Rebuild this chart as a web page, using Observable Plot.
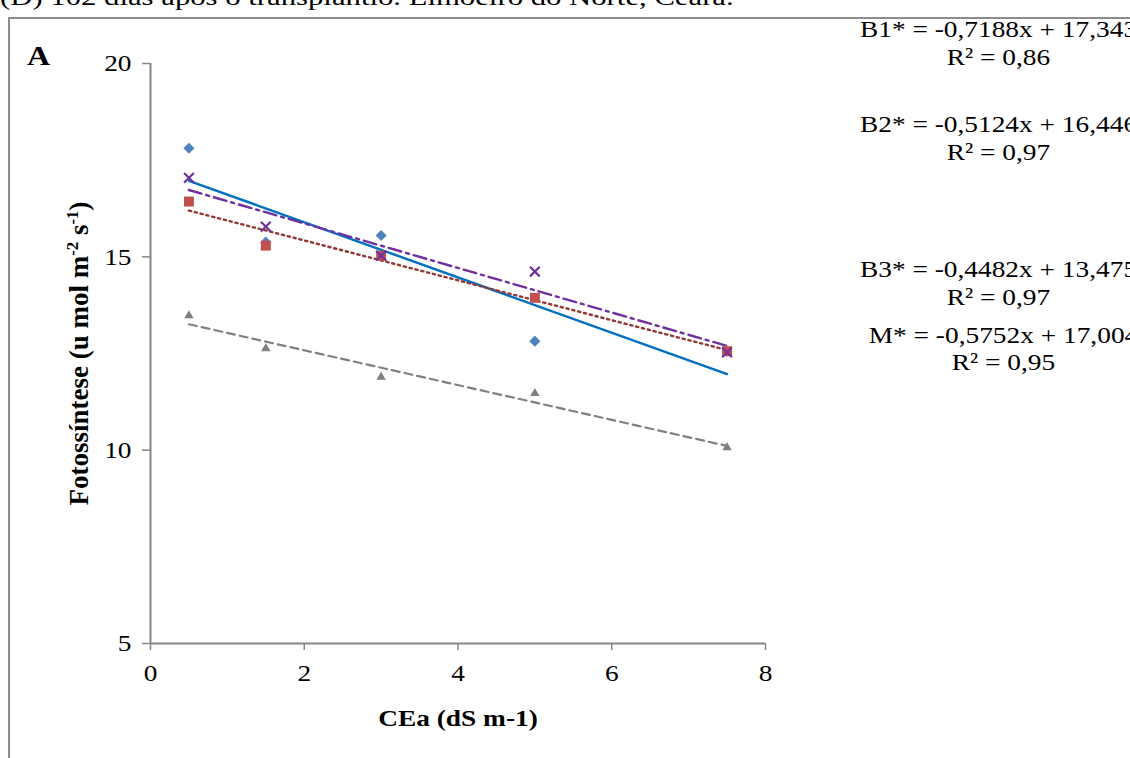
<!DOCTYPE html>
<html><head><meta charset="utf-8">
<script src="https://cdn.jsdelivr.net/npm/d3@7"></script>
<script src="https://cdn.jsdelivr.net/npm/@observablehq/plot@0.6"></script>
<style>
html,body{margin:0;padding:0;background:#fff;}
#wrap{position:relative;width:1130px;height:758px;overflow:hidden;background:#fff;}
#chart{position:absolute;left:0;top:0;}
#frame{position:absolute;left:8px;top:17px;width:1300px;height:900px;border-left:2px solid #8c8c8c;border-top:2px solid #8c8c8c;pointer-events:none;}
#title{position:absolute;left:0;top:-15px;font:24px "Liberation Serif";line-height:24px;white-space:nowrap;transform-origin:0 0;transform:scaleX(1.28);}
</style></head>
<body>
<div id="wrap">
  <div id="chart"></div>
  <div id="title">(D) 102 dias após o transplantio. Limoeiro do Norte, Ceará.</div>
  <div id="frame"></div>
</div>
<script>
// ---------------- data ----------------
const cea = [0.5, 1.5, 3, 5, 7.5];
const b1 = [17.81, 15.38, 15.55, 12.82, 12.56];
const b2 = [16.43, 15.29, 15.03, 13.94, 12.56];
const b3 = [13.48, 12.63, 11.89, 11.47, 10.07];
const mm = [17.04, 15.78, 15.03, 14.62, 12.53];
const seriesNames = ["B1", "B2", "B3", "M"];
const equations = ["B1* = -0,7188x + 17,343", "B2* = -0,5124x + 16,446", "B3* = -0,4482x + 13,475", "M* = -0,5752x + 17,004"];
const r2Labels = ["R² = 0,86", "R² = 0,97", "R² = 0,97", "R² = 0,95"];
const xTicks = [0, 2, 4, 6, 8];
const yTicks = [5, 10, 15, 20];
const xTitle = "CEa (dS m-1)";
const yTitle = "Fotossíntese (u mol m-2 s-1)";
const panelLabel = "A";

// ---------------- styling / layout ----------------
const S = 1.14; // horizontal text stretch seen in the reference
const FONT = "'Liberation Serif', 'Times New Roman', serif";
const AX = "#868686";
const style = {
  B1: {symbol: "diamond2", fill: "#4F81BD", r: 5, line: "#0070C0", lw: 2.4, dash: null},
  B2: {symbol: "square", fill: "#C0504D", r: 5.6, line: "#953735", lw: 2.4, dash: "2.2,3.8"},
  B3: {symbol: "triangle", fill: "#808080", r: 3.5, line: "#808080", lw: 2.2, dash: "8,5"},
  M:  {symbol: "times", stroke: "#7030A0", r: 4.5, sw: 2.2, line: "#7030A0", lw: 2.4, dash: "13,5,3,5"}
};
// annotation centers (px) [center x, eq center y, R² center y]
const eqPos = [[998, 29, 57], [998, 124, 152], [998, 269, 297], [1003, 335, 362]];

const valuesBySeries = {B1: b1, B2: b2, B3: b3, M: mm};
const rows = seriesNames.flatMap(s => cea.map((x, j) => ({series: s, x, y: valuesBySeries[s][j]})));

const W = 1130, H = 758, mL = 150, mR = 365, mT = 63, mB = 115;
const marks = [];

marks.push(Plot.ruleX([0], {stroke: AX, strokeWidth: 2}));
marks.push(Plot.ruleY([5], {stroke: AX, strokeWidth: 2}));
marks.push(Plot.axisY({ticks: yTicks, tickSize: 8, tickPadding: 11, stroke: AX, strokeWidth: 1.5, fill: "black", fontSize: 24, label: null}));
marks.push(Plot.axisX({ticks: xTicks, tickSize: 7, tickPadding: 13, stroke: AX, strokeWidth: 1.5, fill: "black", fontSize: 24, label: null}));

for (const s of seriesNames) {
  const st = style[s];
  marks.push(Plot.linearRegressionY(rows.filter(d => d.series === s), {
    x: "x", y: "y", ci: 0, stroke: st.line, strokeWidth: st.lw, strokeDasharray: st.dash ?? undefined
  }));
}
for (const s of seriesNames) {
  const st = style[s];
  marks.push(Plot.dot(rows.filter(d => d.series === s), {
    x: "x", y: "y", symbol: st.symbol, r: st.r,
    fill: st.fill ?? "none", stroke: st.stroke ?? "none", strokeWidth: st.sw ?? 1
  }));
}

// titles
marks.push(Plot.text([xTitle], {text: d => d, frameAnchor: "bottom", dy: 75, fontWeight: "bold", fontSize: 24, lineAnchor: "middle"}));
marks.push(Plot.text([yTitle], {text: d => d, frameAnchor: "left", dx: -72, dy: 0, rotate: -90, textAnchor: "middle", fontWeight: "bold", fontSize: 27, lineAnchor: "middle"}));
marks.push(Plot.text([panelLabel], {text: d => d, frameAnchor: "top-left", dx: 38 - mL, dy: 56 - mT, textAnchor: "middle", fontWeight: "bold", fontSize: 28, lineAnchor: "middle"}));
equations.forEach((eq, i) => {
  const [cx, y1, y2] = eqPos[i];
  marks.push(Plot.text([eq], {text: d => d, frameAnchor: "top-left", dx: cx - mL, dy: y1 - mT, fontSize: 24, textAnchor: "middle", lineAnchor: "middle"}));
  marks.push(Plot.text([r2Labels[i]], {text: d => d, frameAnchor: "top-left", dx: cx - mL, dy: y2 - mT, fontSize: 24, textAnchor: "middle", lineAnchor: "middle"}));
});

const chart = Plot.plot({
  width: W, height: H,
  marginLeft: mL, marginRight: mR, marginTop: mT, marginBottom: mB,
  x: {domain: [0, 8]},
  y: {domain: [5, 20]},
  style: {fontFamily: FONT, fontSize: "24px", background: "transparent", color: "black", overflow: "visible"},
  marks
});
document.getElementById("chart").append(chart);

// superscripts in y title
for (const t of chart.querySelectorAll("text")) {
  if (t.textContent === yTitle) {
    while (t.firstChild) t.removeChild(t.firstChild);
    const parts = [["Fotossíntese (u mol m", false], ["-2", true], [" s", false], ["-1", true], [")", false]];
    for (const [txt, sup] of parts) {
      const ts = document.createElementNS("http://www.w3.org/2000/svg", "tspan");
      ts.textContent = txt;
      if (sup) { ts.setAttribute("baseline-shift", "super"); ts.setAttribute("font-size", "0.62em"); }
      t.appendChild(ts);
    }
  }
}
// horizontal stretch of text, as in the reference
for (const t of chart.querySelectorAll("text")) {
  const tr = t.getAttribute("transform") || "";
  if (tr.includes("rotate")) {
    t.setAttribute("transform", tr.replace("rotate", `scale(1.05,1) rotate`));
  } else {
    const L = t.getComputedTextLength();
    t.setAttribute("textLength", (L * S).toFixed(2));
    t.setAttribute("lengthAdjust", "spacingAndGlyphs");
  }
}
</script>
</body></html>
